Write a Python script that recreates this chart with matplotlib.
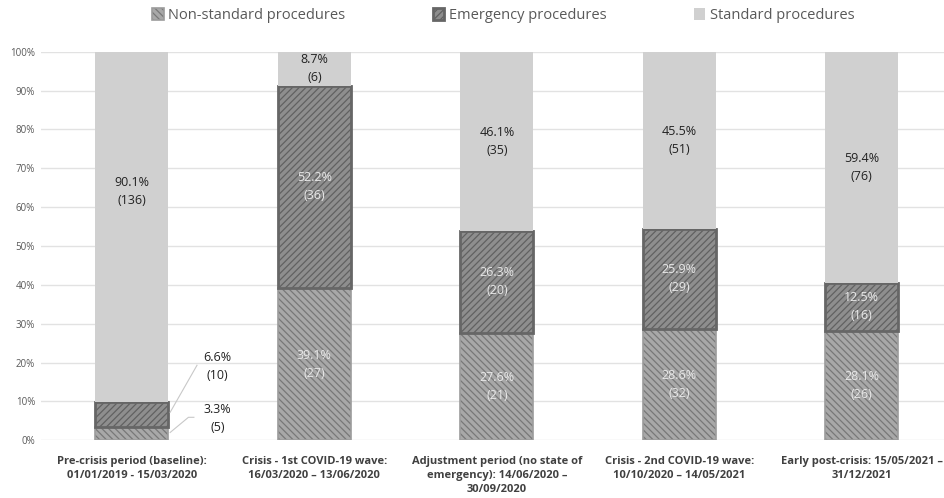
import matplotlib.pyplot as plt
import numpy as np

categories = ["Pre-crisis period (baseline):\n01/01/2019 - 15/03/2020",
              "Crisis - 1st COVID-19 wave:\n16/03/2020 \u2013 13/06/2020",
              "Adjustment period (no state of\nemergency): 14/06/2020 \u2013\n30/09/2020",
              "Crisis - 2nd COVID-19 wave:\n10/10/2020 \u2013 14/05/2021",
              "Early post-crisis: 15/05/2021 \u2013\n31/12/2021"]

non_standard_pct = [3.3, 39.1, 27.6, 28.6, 28.1]
non_standard_n = [5, 27, 21, 32, 26]
emergency_pct = [6.6, 52.2, 26.3, 25.9, 12.5]
emergency_n = [10, 36, 20, 29, 16]
standard_pct = [90.1, 8.7, 46.1, 45.5, 59.4]
standard_n = [136, 6, 35, 51, 76]

plt.rcParams['font.family'] = ['Open Sans', 'DejaVu Sans']
plt.rcParams['hatch.linewidth'] = 0.9

fig = plt.figure(figsize=(9.44, 4.98), dpi=100)
ax = fig.add_axes([0.043, 0.116, 0.957, 0.78])

x = np.arange(len(categories))
w = 0.4
ns = np.array(non_standard_pct)
em = np.array(emergency_pct)
st = np.array(standard_pct)

b1 = ax.bar(x, ns, w, color='#a8a8a8', edgecolor='#9c9c9c', linewidth=1.2,
            hatch='\\\\\\\\\\', label='Non-standard procedures', zorder=3)
for p in b1:
    p._hatch_color = (0.47, 0.47, 0.47, 1)
b2 = ax.bar(x, em, w, bottom=ns, color='#8e8e8e', edgecolor='#666666', linewidth=2,
            hatch='/////', label='Emergency procedures', zorder=3)
for p in b2:
    p._hatch_color = (0.38, 0.38, 0.38, 1)
b3 = ax.bar(x, st, w, bottom=ns + em, color='#d0d0d0', edgecolor='#d0d0d0', linewidth=0,
            label='Standard procedures', zorder=3)

tf = dict(ha='center', va='center', fontsize=9, linespacing=1.5, zorder=5)
for i in range(len(categories)):
    if i == 0:
        # small segments labelled outside with leader lines
        ax.text(0.47, 19, f"{em[i]}%\n({emergency_n[i]})", color='#222222', **tf)
        ax.plot([0.21, 0.357], [7.2, 19.3], color='#c8c8c8', lw=0.8, zorder=4)
        ax.text(0.47, 5.7, f"{ns[i]}%\n({non_standard_n[i]})", color='#222222', **tf)
        ax.plot([0.21, 0.31, 0.34], [2, 5.9, 5.9], color='#c8c8c8', lw=0.8, zorder=4)
    else:
        ax.text(x[i], ns[i] / 2, f"{ns[i]}%\n({non_standard_n[i]})", color='#e8e8e8', **tf)
        ax.text(x[i], ns[i] + em[i] / 2, f"{em[i]}%\n({emergency_n[i]})", color='#e8e8e8', **tf)
    ypos = ns[i] + em[i] + st[i] / 2
    if i == 0:
        ypos = 64
    ax.text(x[i], ypos, f"{st[i]}%\n({standard_n[i]})", color='#222222', **tf)

ax.set_ylim(0, 100)
ax.set_xlim(-0.5, 4.45)
ax.set_yticks(np.arange(0, 101, 10))
ax.set_yticklabels([f"{v}%" for v in range(0, 101, 10)], fontsize=7, color='#595959')
ax.set_xticks(x)
ax.set_xticklabels(categories, fontsize=8, fontweight='bold', color='#404040', linespacing=1.4)
ax.tick_params(length=0, pad=11)
ax.tick_params(axis='y', pad=4)
ax.grid(axis='y', color='#e2e2e2', lw=1, zorder=0)
for s in ax.spines.values():
    s.set_visible(False)

fig.legend(handles=[b1, b2, b3], loc='upper center', bbox_to_anchor=(0.533, 1.01), ncol=3,
           frameon=False, fontsize=10.5, labelcolor='#595959', handlelength=0.8, handleheight=0.8,
           columnspacing=6, handletextpad=0.3)

fig.savefig('out.png', dpi=100)
